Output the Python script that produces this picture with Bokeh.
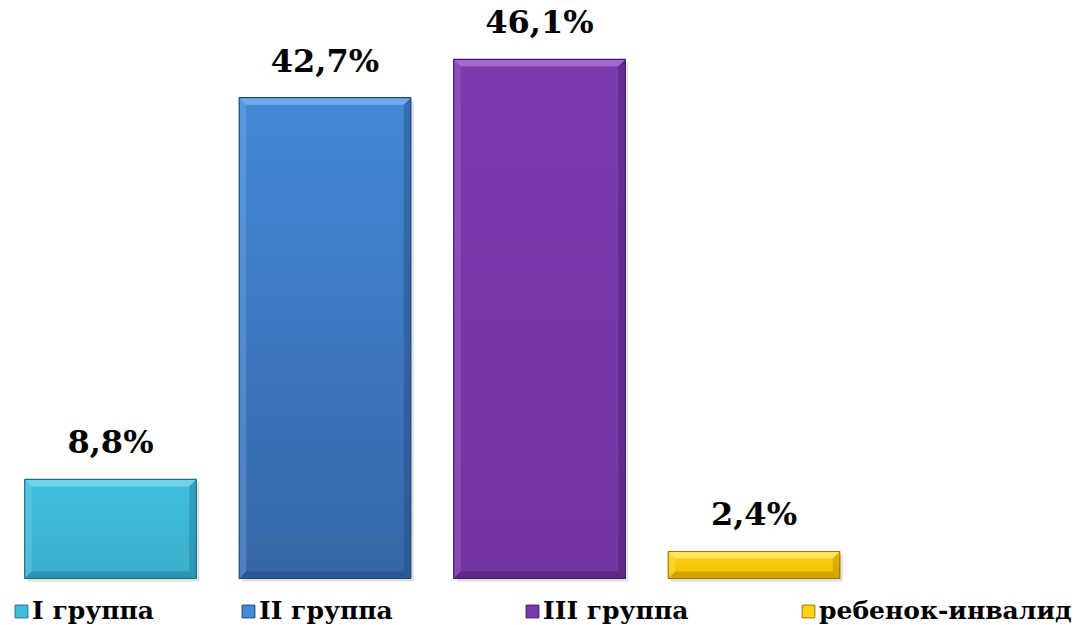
from bokeh.plotting import figure
from bokeh.models import Range1d, Legend, LegendItem, ColumnDataSource
from bokeh.core.properties import value
from bokeh.embed import file_html
from bokeh.resources import INLINE

categories = ["I группа", "II группа", "III группа", "ребенок-инвалид"]
values = [8.8, 42.7, 46.1, 2.4]
labels = ["8,8%", "42,7%", "46,1%", "2,4%"]
top_colors = ["#41BEDD", "#4389D6", "#7C3AAD", "#FFD21A"]
bot_colors = ["#3AAECC", "#3567A8", "#7535A2", "#F0BE00"]
light_colors = ["#7AD8EE", "#7AB2EE", "#A872D6", "#FFE76A"]
dark_colors = ["#1F7E98", "#234C84", "#4E1C74", "#B98C00"]
outline_colors = ["#1C6E86", "#1E4474", "#431863", "#A07800"]

FONT_NAME = "DejaVu Serif"

W, H = 1084, 625
xs = 214.5           # pixels per category
ys = 11.26           # pixels per percent
x0 = -110 / xs
x1 = x0 + W / xs
y0 = -(H - 578) / ys
y1 = y0 + H / ys
bw = 0.8

p = figure(width=W, height=H, output_backend="svg", toolbar_location=None,
           x_range=Range1d(x0, x1), y_range=Range1d(y0, y1),
           min_border=0, outline_line_color=None)
p.axis.visible = False
p.grid.visible = False
p.background_fill_color = "white"
p.border_fill_color = "white"

bx = 7 / xs
by = 7 / ys
sh_x = 3 / xs
sh_y = 3 / ys


def hx(c):
    return tuple(int(c[k:k + 2], 16) for k in (1, 3, 5))


N = 24
for i, v in enumerate(values):
    l, r = i - bw / 2, i + bw / 2
    p.quad(left=[l + sh_x], right=[r + sh_x], bottom=[-sh_y], top=[v - sh_y],
           fill_color="#000000", fill_alpha=0.12, line_color=None)
    ct, cb = hx(top_colors[i]), hx(bot_colors[i])
    lefts, rights, bots, tops, cols = [], [], [], [], []
    ov = 1.5 / ys
    for k in range(N):
        t = k / (N - 1)
        c = tuple(int(round(ct[j] + (cb[j] - ct[j]) * t)) for j in range(3))
        tops.append(v - v * k / N)
        bots.append(max(0, v - v * (k + 1) / N - ov))
        lefts.append(l)
        rights.append(r)
        cols.append("#%02x%02x%02x" % c)
    p.quad(left=lefts, right=rights, bottom=bots, top=tops,
           fill_color=cols, line_color=None)
    p.patch([l, r, r - bx, l + bx], [v, v, v - by, v - by],
            fill_color=light_colors[i], fill_alpha=0.85, line_color=None)
    p.patch([l, l + bx, l + bx, l], [v, v - by, by, 0],
            fill_color=light_colors[i], fill_alpha=0.35, line_color=None)
    p.patch([r, r - bx, r - bx, r], [v, v - by, by, 0],
            fill_color=dark_colors[i], fill_alpha=0.45, line_color=None)
    p.patch([l, r, r - bx, l + bx], [0, 0, by, by],
            fill_color=dark_colors[i], fill_alpha=0.55, line_color=None)
    p.quad(left=[l], right=[r], bottom=[0], top=[v],
           fill_alpha=0.0, line_color=outline_colors[i], line_width=1.2)

src = ColumnDataSource(dict(x=list(range(len(values))), y=values, t=labels))
p.text(x="x", y="y", text="t", source=src, text_align="center",
       text_baseline="bottom", y_offset=-18,
       text_font=value(FONT_NAME), text_font_style="bold",
       text_font_size="32px", text_color="black")

leg_x = [13, 240, 524, 800]
for i, name in enumerate(categories):
    g = p.quad(left=[0], right=[0], bottom=[0], top=[0],
               fill_color=top_colors[i], line_color=outline_colors[i],
               line_width=1)
    leg = Legend(items=[LegendItem(label=name, renderers=[g])],
                 location=(leg_x[i], 0), orientation="horizontal",
                 glyph_width=16, glyph_height=16, label_standoff=3,
                 label_text_font=FONT_NAME,
                 label_text_font_style="bold",
                 label_text_font_size="25px", label_text_color="black",
                 background_fill_alpha=0, border_line_alpha=0,
                 padding=0, margin=0, spacing=0)
    p.add_layout(leg, "center")

open("out.html", "w").write(file_html(p, INLINE))
